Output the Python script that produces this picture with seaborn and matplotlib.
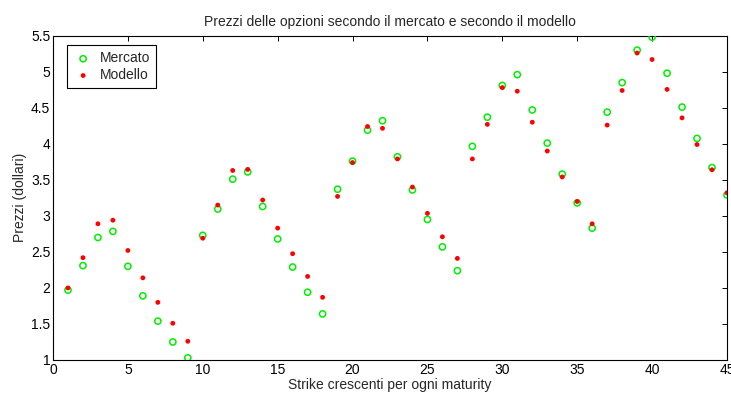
import numpy as np
import pandas as pd
import matplotlib
matplotlib.use("Agg")
import matplotlib.pyplot as plt
import seaborn as sns

# Strike index (strikes increasing within each maturity)
strike_idx = list(range(1, 46))

mercato = [1.97, 2.31, 2.70, 2.785, 2.30, 1.89, 1.54, 1.25, 1.03,
           2.73, 3.095, 3.51, 3.61, 3.13, 2.68, 2.29, 1.94, 1.64,
           3.37, 3.76, 4.19, 4.32, 3.82, 3.36, 2.95, 2.57, 2.24,
           3.965, 4.37, 4.81, 4.96, 4.47, 4.01, 3.58, 3.18, 2.83,
           4.44, 4.85, 5.30, 5.48, 4.98, 4.51, 4.075, 3.67, 3.29]

modello = [2.00, 2.42, 2.89, 2.94, 2.52, 2.14, 1.80, 1.51, 1.26,
           2.69, 3.15, 3.63, 3.645, 3.22, 2.83, 2.475, 2.16, 1.87,
           3.27, 3.74, 4.24, 4.215, 3.79, 3.40, 3.035, 2.71, 2.41,
           3.79, 4.27, 4.78, 4.73, 4.30, 3.90, 3.54, 3.20, 2.89,
           4.26, 4.74, 5.26, 5.17, 4.755, 4.36, 3.99, 3.64, 3.32]

x_ticks = [0, 5, 10, 15, 20, 25, 30, 35, 40, 45]
y_ticks = [1, 1.5, 2, 2.5, 3, 3.5, 4, 4.5, 5, 5.5]
y_ticklabels = ["1", "1.5", "2", "2.5", "3", "3.5", "4", "4.5", "5", "5.5"]

sns.set_style("white")
plt.rcParams["font.family"] = ["Liberation Sans", "DejaVu Sans"]
plt.rcParams["font.size"] = 10

df = pd.DataFrame({"strike": strike_idx, "mercato": mercato, "modello": modello})

fig = plt.figure(figsize=(7.31, 3.94), dpi=100)
ax = fig.add_axes([0.0725, 0.0863, 0.922, 0.823])

sns.scatterplot(data=df, x="strike", y="mercato", ax=ax, marker="o",
                color="#00ee00", facecolor="none", edgecolor="#00ee00",
                linewidth=1.1, s=20, label="Mercato", zorder=3)
sns.scatterplot(data=df, x="strike", y="modello", ax=ax, marker="o",
                color="#ff0000", edgecolor="none", s=12,
                label="Modello", zorder=4)

ax.set_xlim(0, 45)
ax.set_ylim(1, 5.5)
ax.set_xticks(x_ticks)
ax.set_xticklabels([str(t) for t in x_ticks])
ax.set_yticks(y_ticks)
ax.set_yticklabels(y_ticklabels)

ax.tick_params(direction="in", length=3.5, width=0.7, top=True, right=True,
               labelsize=10, pad=2, colors="black")
for sp in ax.spines.values():
    sp.set_visible(True)
    sp.set_color("black")
    sp.set_linewidth(0.8)

ax.set_title("Prezzi delle opzioni secondo il mercato e secondo il modello",
             fontsize=10, pad=7)
ax.set_xlabel("Strike crescenti per ogni maturity", fontsize=10, labelpad=1)
ax.set_ylabel("Prezzi (dollari)", fontsize=10, labelpad=3)

leg = ax.legend(loc="upper left", bbox_to_anchor=(0.021, 0.971),
                borderaxespad=0, frameon=True,
                fancybox=False, edgecolor="black", framealpha=1,
                fontsize=10, handletextpad=0.5, borderpad=0.45,
                labelspacing=0.2, handlelength=1.4)
leg.get_frame().set_linewidth(0.8)

fig.savefig("out.png", dpi=100, facecolor="white")
